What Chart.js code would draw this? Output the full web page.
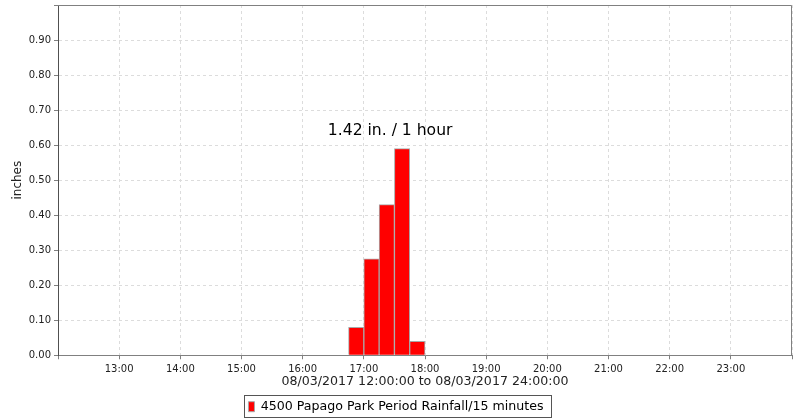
<!DOCTYPE html>
<html>
<head>
<meta charset="utf-8">
<script src="https://cdn.jsdelivr.net/npm/chart.js@4.4.1/dist/chart.umd.min.js"></script>
<style>
  html, body { margin: 0; padding: 0; background: #fff; }
  #wrap { width: 800px; height: 420px; }
</style>
</head>
<body>
<div id="wrap"><canvas id="chartRain" width="800" height="420"></canvas></div>
<script>
// 15 minute periods (start time) and rainfall in inches
var periodStarts = ["16:45", "17:00", "17:15", "17:30", "17:45"];
var rainfall = [0.08, 0.275, 0.43, 0.59, 0.04];

var seriesLabel = "4500 Papago Park Period Rainfall/15 minutes";
var axisTitleX = "08/03/2017 12:00:00 to 08/03/2017 24:00:00";
var axisTitleY = "inches";
var peakNote = "1.42 in. / 1 hour";
var peakNoteAt = { x: 17.43, y: 0.64 };

var hourStart = 12;
var hourEnd = 24;

function toHours(hhmm) {
    var p = hhmm.split(":");
    return parseInt(p[0], 10) + parseInt(p[1], 10) / 60;
}

var points = [];
for (var i = 0; i < periodStarts.length; i++) {
    // bar is centred in the middle of its 15 minute period
    points.push({ x: toHours(periodStarts[i]) + 0.125, y: rainfall[i] });
}

var FONT = "'DejaVu Sans', sans-serif";

var frameAndNote = {
    id: "frameAndNote",
    afterDatasetsDraw: function (chart) {
        var ctx = chart.ctx;
        var a = chart.chartArea;
        ctx.save();
        ctx.strokeStyle = "#808080";
        ctx.lineWidth = 1;
        ctx.beginPath();
        ctx.moveTo(a.left, a.top + 0.5);
        ctx.lineTo(a.right - 0.5, a.top + 0.5);
        ctx.lineTo(a.right - 0.5, a.bottom);
        ctx.stroke();

        ctx.fillStyle = "#000";
        ctx.font = "15.6px " + FONT;
        ctx.textAlign = "center";
        ctx.textBaseline = "middle";
        ctx.fillText(peakNote, chart.scales.x.getPixelForValue(peakNoteAt.x), chart.scales.y.getPixelForValue(peakNoteAt.y));
        ctx.restore();
    },
    afterDraw: function (chart) {
        var boxes = chart.legend.legendHitBoxes;
        if (!boxes || !boxes.length) return;
        var b = boxes[0];
        var ctx = chart.ctx;
        var left = Math.round(b.left) - 3.5;
        var right = Math.round(b.left + b.width) + 7.5;
        ctx.save();
        ctx.strokeStyle = "#555";
        ctx.lineWidth = 1;
        ctx.strokeRect(left, Math.round(b.top) - 4.5, right - left, Math.round(b.height) + 9);
        ctx.restore();
    }
};

var ctx = document.getElementById("chartRain");
var myChart = new Chart(ctx, {
    type: "bar",
    data: {
        datasets: [{
            label: seriesLabel,
            data: points,
            backgroundColor: "#ff0000",
            borderColor: "#a8a8a8",
            borderWidth: 1,
            barPercentage: 1.0,
            categoryPercentage: 1.0
        }]
    },
    options: {
        responsive: false,
        animation: false,
        layout: { padding: { left: 0, right: 8, top: 5, bottom: -3 } },
        plugins: {
            tooltip: { enabled: false },
            legend: {
                position: "bottom",
                labels: {
                    boxWidth: 6,
                    boxHeight: 10,
                    padding: 3,
                    color: "#000",
                    font: { family: FONT, size: 12.6 }
                }
            }
        },
        scales: {
            x: {
                type: "linear",
                min: hourStart,
                max: hourEnd,
                offset: false,
                grid: { offset: false, color: "#dcdcdc", borderDash: [3, 3], tickColor: "#808080", tickLength: 4, tickBorderDash: [] },
                border: { color: "#808080", dash: [3, 3] },
                ticks: {
                    stepSize: 1,
                    maxRotation: 0,
                    autoSkip: false,
                    color: "#222",
                    font: { family: FONT, size: 10 },
                    padding: 4,
                    callback: function (v) {
                        if (v <= hourStart || v >= hourEnd) return "";
                        return (v < 10 ? "0" : "") + v + ":00";
                    }
                },
                title: { display: true, text: axisTitleX, color: "#222", font: { family: FONT, size: 12.6 }, padding: { top: -5, bottom: 8 } }
            },
            y: {
                min: 0,
                max: 1.0,
                grid: { color: "#dcdcdc", borderDash: [3, 3], tickColor: "#808080", tickLength: 4, tickBorderDash: [] },
                border: { color: "#505050", dash: [3, 3] },
                ticks: {
                    stepSize: 0.1,
                    color: "#222",
                    font: { family: FONT, size: 10 },
                    padding: 3,
                    callback: function (v) {
                        if (v > 0.95) return "";
                        return v.toFixed(2);
                    }
                },
                title: { display: true, text: axisTitleY, color: "#222", font: { family: FONT, size: 12 }, padding: { top: 11, bottom: 0 } },
                afterFit: function (scale) {
                    scale.width = 58;
                    scale.paddingTop = 0;
                    scale.paddingBottom = 0;
                }
            }
        }
    },
    plugins: [frameAndNote]
});
</script>
</body>
</html>
